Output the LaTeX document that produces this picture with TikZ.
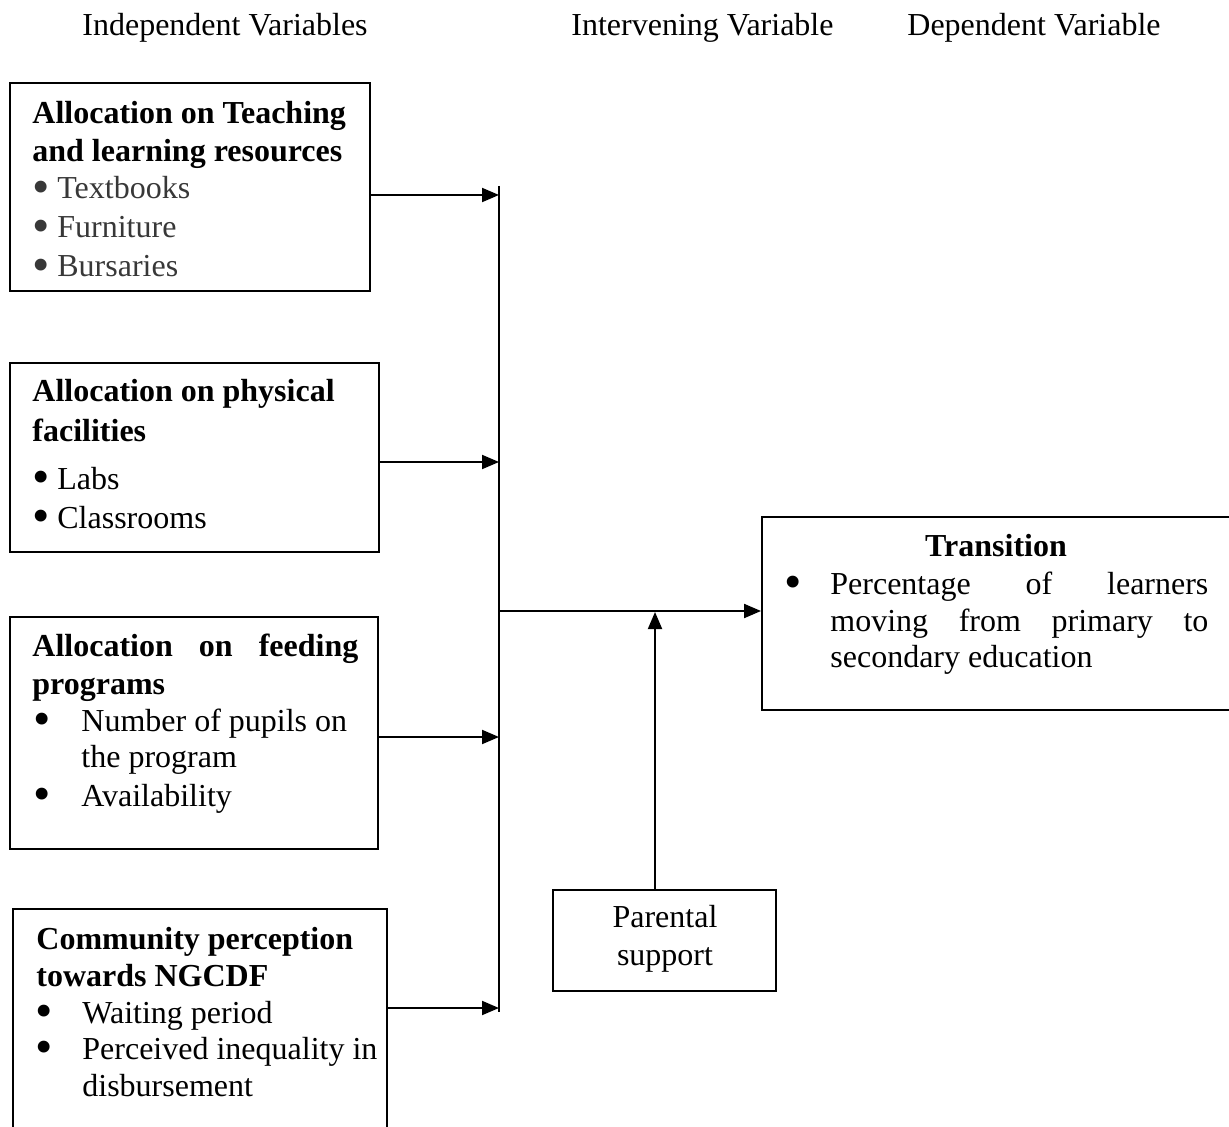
\documentclass[tikz,border=0pt]{standalone}
\usepackage{fontspec}
\usepackage{graphicx}
\setmainfont{Liberation Serif}
\usetikzlibrary{arrows.meta}
\newcommand{\bigbul}{\smash{\raisebox{-0.13em}{\scalebox{1.55}{\textbullet}}}}
\newcommand{\bulw}[1]{\makebox[#1][l]{\bigbul}}
\begin{document}
\begin{tikzpicture}[x=0.5pt,y=-0.5pt,
  box/.style={draw, line width=0.95pt, rectangle, inner sep=0pt},
  txt/.style={anchor=base west, inner sep=0pt, font=\fontsize{16}{19}\selectfont},
  btxt/.style={txt, font=\fontsize{16}{19}\selectfont\bfseries},
  gtxt/.style={txt, text=black!78},
  arr/.style={line width=0.95pt, -{Triangle[length=8.5pt,width=7pt]}},
  ln/.style={line width=0.95pt}]
\useasboundingbox (0,0) rectangle (1229,1127);

% headers
\node[txt] (h1) at (82,36) {Independent Variables};
\node[txt] (h2) at (571,36) {Intervening Variable};
\node[txt] (h3) at (907,36) {Dependent Variable};

% boxes
\node[box, minimum width=180pt, minimum height=104pt] (b1) at (190,187) {};
\node[box, minimum width=184.5pt, minimum height=94.5pt] (b2) at (194.5,457.5) {};
\node[box, minimum width=184pt, minimum height=116pt] (b3) at (194,733) {};
\node[box, minimum width=187pt, minimum height=116pt] (b4) at (200,1025) {};
\node[box, minimum width=235pt, minimum height=96.5pt] (tr) at (997,613.5) {};
\node[box, minimum width=111.5pt, minimum height=50.5pt] (ps) at (664.5,940.5) {};

% box 1 text
\node[btxt] (t11) at (32,124) {Allocation on Teaching};
\node[btxt] (t12) at (32,162) {and learning resources};
\node[gtxt] (t13) at (32,199) {\bulw{12.5pt}Textbooks};
\node[gtxt] (t14) at (32,238) {\bulw{12.5pt}Furniture};
\node[gtxt] (t15) at (32,277) {\bulw{12.5pt}Bursaries};

% box 2 text
\node[btxt] (t21) at (32,402) {Allocation on physical};
\node[btxt] (t22) at (32,442) {facilities};
\node[txt] (t23) at (32,489) {\bulw{12.5pt}Labs};
\node[txt] (t24) at (32,528) {\bulw{12.5pt}Classrooms};

% box 3 text
\node[btxt] (t31) at (32,656) {\makebox[163pt][s]{Allocation on feeding}};
\node[btxt] (t32) at (32,694) {programs};
\node[txt] (t33) at (33,731) {\bulw{24pt}Number of pupils on};
\node[txt] (t34) at (81,767) {the program};
\node[txt] (t35) at (33,806) {\bulw{24pt}Availability};

% box 4 text
\node[btxt] (t41) at (36,949) {Community perception};
\node[btxt] (t42) at (36,986) {towards NGCDF};
\node[txt] (t43) at (35,1023) {\bulw{23.5pt}Waiting period};
\node[txt] (t44) at (35,1059) {\bulw{23.5pt}Perceived inequality in};
\node[txt] (t45) at (82,1096) {disbursement};

% transition text
\node[btxt, anchor=base] (t51) at (996,556) {Transition};
\node[txt] (t52) at (784,594) {\bulw{23pt}\makebox[189pt][s]{Percentage of learners}};
\node[txt] (t53) at (830,631) {\makebox[189pt][s]{moving from primary to}};
\node[txt] (t54) at (830,667) {secondary education};

% parental text
\node[txt, anchor=base] (t61) at (665,927) {Parental};
\node[txt, anchor=base] (t62) at (665,965) {support};

% connectors
\coordinate (vt) at (499,186);
\coordinate (vb) at (499,1012);
\draw[ln] (vt) -- (vb);
\coordinate (j1) at (499,195);
\coordinate (j2) at (499,462);
\coordinate (j3) at (499,737);
\coordinate (j4) at (499,1008);
\draw[arr] (b1.east |- j1) -- (j1);
\draw[arr] (b2.east |- j2) -- (j2);
\draw[arr] (b3.east |- j3) -- (j3);
\draw[arr] (b4.east |- j4) -- (j4);
\coordinate (m) at (499,611);
\draw[arr] (m) -- (tr.west |- m);
\coordinate (pm) at (655,612);
\draw[arr] (ps.north -| pm) -- (pm);
\end{tikzpicture}
\end{document}
